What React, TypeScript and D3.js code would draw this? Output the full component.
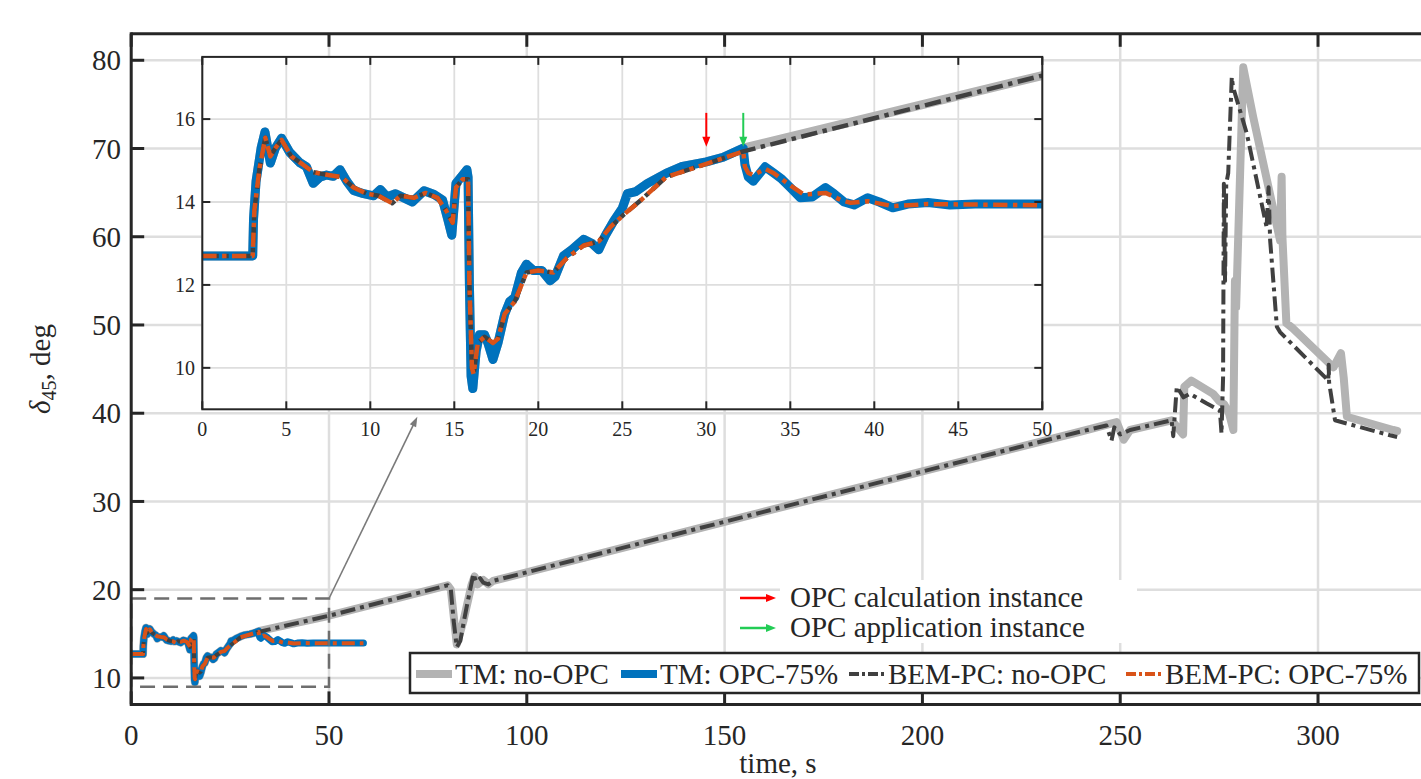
import React from 'react';
import * as d3 from 'd3';

// [time s, delta_45 deg]
const tmOpc75: [number, number][] = [
  [0, 12.7], [3.0, 12.7], [3.05, 13.6], [3.2, 14.5], [3.5, 15.3], [3.73, 15.69], [4.05, 14.94],
  [4.35, 15.3], [4.72, 15.54], [5.2, 15.2], [5.8, 14.95], [6.2, 14.85], [6.6, 14.45], [7.0, 14.6],
  [7.4, 14.65], [7.8, 14.62], [8.2, 14.78], [8.6, 14.5], [9.0, 14.28], [9.6, 14.2], [10.2, 14.15],
  [10.6, 14.3], [11.0, 14.12], [11.5, 14.2], [12.0, 14.1], [12.5, 14.0], [13.2, 14.27], [13.8, 14.18],
  [14.3, 14.05], [14.6, 13.6], [14.85, 13.2], [15.1, 14.45], [15.5, 14.65], [15.75, 14.78],
  [15.82, 14.6], [15.9, 12.0], [16.0, 9.8], [16.1, 9.5], [16.3, 10.4], [16.5, 10.8], [16.8, 10.8],
  [17.0, 10.6], [17.3, 10.2], [17.6, 10.6], [18.0, 11.3], [18.3, 11.6], [18.6, 11.7], [19.0, 12.3],
  [19.3, 12.5], [19.7, 12.35], [20.2, 12.35], [20.7, 12.1], [21.0, 12.2], [21.5, 12.7], [22.0, 12.85],
  [22.7, 13.1], [23.2, 13.0], [23.6, 12.85], [24.0, 13.2], [24.5, 13.55], [25.0, 13.85], [25.3, 14.2],
  [25.8, 14.25], [26.5, 14.45], [27.6, 14.69], [28.5, 14.85], [30.0, 14.97], [31.0, 15.08],
  [32.2, 15.3], [32.3, 14.9], [32.5, 14.6], [32.8, 14.5], [33.2, 14.7], [33.5, 14.85], [34.0, 14.7],
  [34.5, 14.55], [35.0, 14.35], [35.6, 14.1], [36.3, 14.12], [37.1, 14.35], [37.6, 14.2], [38.2, 14.0],
  [38.8, 13.93], [39.6, 14.1], [40.3, 14.0], [41.1, 13.86], [42.0, 13.95], [43.2, 13.99],
  [44.5, 13.93], [46, 13.95], [50, 13.95], [58.7, 13.95],
];

const bemOpc75: [number, number][] = [
  [0, 12.7], [3.0, 12.7], [3.1, 13.8], [3.4, 14.8], [3.75, 15.55], [4.05, 15.1], [4.35, 15.3],
  [4.72, 15.5], [5.3, 15.1], [6.0, 14.9], [6.6, 14.72], [7.5, 14.65], [8.3, 14.6], [9.0, 14.35],
  [9.8, 14.2], [10.5, 14.15], [11.3, 13.97], [11.8, 14.15], [12.6, 14.1], [13.3, 14.22], [14.0, 14.1],
  [14.5, 13.8], [14.9, 13.5], [15.1, 14.35], [15.5, 14.55], [15.82, 14.55], [15.9, 12.0],
  [16.05, 10.0], [16.15, 9.85], [16.4, 10.6], [16.8, 10.75], [17.3, 10.6], [17.6, 10.7], [18.0, 11.3],
  [18.6, 11.6], [19.3, 12.3], [20.0, 12.35], [20.9, 12.3], [21.7, 12.65], [22.7, 12.95], [23.6, 13.05],
  [24.3, 13.4], [25.1, 13.7], [26.1, 14.04], [27.6, 14.6], [30.0, 14.92], [32.2, 15.22], [32.3, 14.85],
  [32.5, 14.7], [32.8, 14.65], [33.5, 14.8], [34.0, 14.7], [35.0, 14.4], [35.8, 14.18], [37.1, 14.22],
  [38.0, 14.05], [38.6, 13.98], [39.6, 14.02], [41.1, 13.9], [43.2, 13.95], [50, 13.92], [58.7, 13.92],
];

// no-OPC runs continue after the OPC application instant
const tmNoOpcAfter: [number, number][] = [
  [50, 17.05], [80, 20.5], [80.8, 20.0], [82.3, 13.8], [84, 16.5], [86, 20.5], [86.8, 21.5],
  [87.6, 20.6], [89, 21.1], [90.3, 20.6], [91.5, 21.0], [150, 27.7], [200, 33.4], [239.8, 37.9],
  [249.1, 39.0], [250.9, 37.0], [252.5, 38.1], [263, 39.2], [265.9, 37.6], [266.2, 43.0], [268, 43.7],
  [273.5, 42.2], [275, 41.4], [276.3, 41], [277.5, 40], [278.6, 38.1], [279.0, 55], [279.3, 52],
  [281.1, 79.2], [283.6, 73.6], [290.4, 59.6], [290.8, 66.8], [291.0, 60], [292.0, 50.2],
  [293.7, 49.6], [303.9, 45.2], [305.8, 46.8], [306.5, 44], [307.3, 39.6], [319, 38.1], [320, 38.0],
];

const bemNoOpcAfter: [number, number][] = [
  [50, 17.05], [80, 20.5], [80.8, 20.0], [81.5, 16.5], [82.3, 13.5], [83.2, 14.2], [84, 16.2],
  [85, 18.5], [86.5, 21.8], [87.2, 20.9], [88.2, 21.3], [89, 20.8], [90.3, 20.6], [91.5, 21.0],
  [150, 27.7], [200, 33.4], [239.8, 37.9], [246.5, 38.6], [247.8, 36.9], [248.5, 38.4], [250, 37.6],
  [252.5, 38.1], [263, 39.2], [263.4, 37.4], [264.3, 43.0], [266, 41.8], [267.6, 42.2], [271.9, 41.1],
  [275.2, 40.3], [275.6, 37.7], [276.0, 44], [276.2, 66.0], [276.5, 55], [276.8, 66], [277.3, 67.2],
  [278.2, 78.1], [278.5, 77], [282, 71.7], [287, 61.1], [287.5, 65.6], [287.9, 59.6], [289.6, 49.8],
  [290.4, 49.2], [302.6, 43.7], [302.7, 45.5], [302.8, 43.5], [304.3, 39.2], [318.2, 37.5], [320, 37.3],
];

const opcCalcTime = 30;
const opcApplyTime = 32.2;

const mainXTicks = [0, 50, 100, 150, 200, 250, 300];
const mainYTicks = [10, 20, 30, 40, 50, 60, 70, 80];
const insetXTicks = [0, 5, 10, 15, 20, 25, 30, 35, 40, 45, 50];
const insetYTicks = [10, 12, 14, 16];
const zoomTimes = [0, 50];
const zoomValues = [9, 19];

const seriesNames = ['TM: no-OPC', 'TM: OPC-75%', 'BEM-PC: no-OPC', 'BEM-PC: OPC-75%'];
const arrowNotes = ['OPC calculation instance', 'OPC application instance'];

const FONT = '"Liberation Serif", "Times New Roman", serif';
const INK = '#262626';
const GRID = '#dedede';

const tmNoOpc = tmOpc75.filter(d => d[0] <= opcApplyTime).concat(tmNoOpcAfter);
const bemNoOpc = bemOpc75.filter(d => d[0] <= opcApplyTime).concat(bemNoOpcAfter);

const styles = [
  { data: tmNoOpc, color: '#b3b3b3', main: 8, inset: 9, dash: null },
  { data: tmOpc75, color: '#0072bd', main: 7, inset: 9, dash: null },
  { data: bemNoOpc, color: '#404040', main: 4, inset: 4.5, dash: [15, 5, 4, 5] },
  { data: bemOpc75, color: '#d95319', main: 4, inset: 4.5, dash: [13, 5, 4, 5] },
];

export default function App() {
  const W = 1421, H = 779;
  const x = d3.scaleLinear().domain([0, 330]).range([131.2, 1436.7]);
  const y = d3.scaleLinear().domain([7, 83]).range([704.4, 33.8]);
  const ix = d3.scaleLinear().domain([0, 50]).range([202.3, 1042.3]);
  const iy = d3.scaleLinear().domain([9, 17.5]).range([409.3, 56.9]);

  const mainLine = d3.line<[number, number]>().x(d => x(d[0])).y(d => y(d[1]));
  const insetLine = d3.line<[number, number]>().x(d => ix(d[0])).y(d => iy(d[1]));

  const [mx0, mx1] = x.range();
  const [my0, my1] = y.range(); // bottom, top
  const [ix0, ix1] = ix.range();
  const [iy0, iy1] = iy.range();

  // pointer from zoom box to inset
  const px0 = x(zoomTimes[1]), py0 = y(zoomValues[1]);
  const px1 = ix(12.8), py1 = iy(8.82);
  const ang = Math.atan2(py1 - py0, px1 - px0);
  const head = (tx: number, ty: number, a: number, len: number, wid: number) => {
    const bx = tx - len * Math.cos(a), by = ty - len * Math.sin(a);
    const nx = -Math.sin(a) * wid, ny = Math.cos(a) * wid;
    return `M${tx},${ty}L${bx + nx},${by + ny}L${bx - nx},${by - ny}Z`;
  };

  const legendX = [416, 621, 849, 1126];

  return (
    <svg width={W} height={H} style={{ position: 'absolute', left: 0, top: 0, background: '#fff' }}
      fontFamily={FONT}>
      <defs>
        <clipPath id="mainClip"><rect x={mx0} y={my1} width={mx1 - mx0} height={my0 - my1} /></clipPath>
        <clipPath id="insetClip"><rect x={ix0} y={iy1} width={ix1 - ix0} height={iy0 - iy1} /></clipPath>
      </defs>
      <rect width={W} height={H} fill="#fff" />

      {/* main grid */}
      {mainXTicks.map(t => (
        <line key={'gx' + t} x1={x(t)} x2={x(t)} y1={my0} y2={my1} stroke={GRID} strokeWidth={2.5} />
      ))}
      {mainYTicks.map(t => (
        <line key={'gy' + t} x1={mx0} x2={mx1} y1={y(t)} y2={y(t)} stroke={GRID} strokeWidth={2.5} />
      ))}

      {/* main series */}
      <g clipPath="url(#mainClip)" fill="none">
        {styles.map((s, i) => (
          <path key={i} d={mainLine(s.data) || ''} stroke={s.color} strokeWidth={s.main}
            strokeDasharray={s.dash ? s.dash.join(',') : undefined}
            strokeLinejoin="round" strokeLinecap={s.dash ? 'butt' : 'round'} />
        ))}
      </g>

      {/* zoom box */}
      <rect x={x(zoomTimes[0])} y={y(zoomValues[1])} width={x(zoomTimes[1]) - x(zoomTimes[0])}
        height={y(zoomValues[0]) - y(zoomValues[1])} fill="none" stroke="#6e6e6e" strokeWidth={2.5}
        strokeDasharray="15,8" />

      {/* main axes */}
      <g stroke={INK} strokeWidth={3}>
        <line x1={mx0} x2={mx0} y1={my0 + 1.5} y2={my1 - 1.5} />
        <line x1={mx0} x2={mx1} y1={my0} y2={my0} />
        <line x1={mx0} x2={mx1} y1={my1} y2={my1} />
        <line x1={mx1} x2={mx1} y1={my0} y2={my1} />
        {mainXTicks.map(t => (
          <g key={'tx' + t}>
            <line x1={x(t)} x2={x(t)} y1={my0} y2={my0 - 13} />
            <line x1={x(t)} x2={x(t)} y1={my1} y2={my1 + 13} />
          </g>
        ))}
        {mainYTicks.map(t => (
          <line key={'ty' + t} x1={mx0} x2={mx0 + 13} y1={y(t)} y2={y(t)} />
        ))}
      </g>
      <g fill={INK} fontSize={29}>
        {mainXTicks.map(t => (
          <text key={'lx' + t} x={x(t)} y={745} textAnchor="middle">{t}</text>
        ))}
        {mainYTicks.map(t => (
          <text key={'ly' + t} x={121} y={y(t)} dy="0.35em" textAnchor="end">{t}</text>
        ))}
        <text x={(mx0 + mx1) / 2 - 6} y={773} textAnchor="middle">time, s</text>
        <text transform="translate(50,369) rotate(-90)" textAnchor="middle">
          <tspan fontStyle="italic">δ</tspan>
          <tspan fontSize={20} dy={6}>45</tspan>
          <tspan dy={-6}>, deg</tspan>
        </text>
      </g>

      {/* pointer to inset */}
      <line x1={px0} y1={py0} x2={px1 - 8 * Math.cos(ang)} y2={py1 - 8 * Math.sin(ang)}
        stroke="#7a7a7a" strokeWidth={1.6} />
      <path d={head(px1, py1, ang, 10, 3.5)} fill="#7a7a7a" />

      {/* inset */}
      <rect x={ix0} y={iy1} width={ix1 - ix0} height={iy0 - iy1} fill="#fff" />
      {insetXTicks.map(t => (
        <line key={'igx' + t} x1={ix(t)} x2={ix(t)} y1={iy0} y2={iy1} stroke={GRID} strokeWidth={1.8} />
      ))}
      {insetYTicks.map(t => (
        <line key={'igy' + t} x1={ix0} x2={ix1} y1={iy(t)} y2={iy(t)} stroke={GRID} strokeWidth={1.8} />
      ))}
      <g clipPath="url(#insetClip)" fill="none">
        {styles.map((s, i) => (
          <path key={i} d={insetLine(s.data.filter(d => d[0] <= 51)) || ''} stroke={s.color}
            strokeWidth={s.inset} strokeDasharray={s.dash ? s.dash.map(v => v * 1.1).join(',') : undefined}
            strokeLinejoin="round" strokeLinecap={s.dash ? 'butt' : 'round'} />
        ))}
      </g>
      {/* OPC instants */}
      {[{ t: opcCalcTime, c: '#ff0000' }, { t: opcApplyTime, c: '#22cc55' }].map(a => (
        <g key={a.t}>
          <line x1={ix(a.t)} x2={ix(a.t)} y1={iy(16.15)} y2={iy(15.5)} stroke={a.c} strokeWidth={2} />
          <path d={head(ix(a.t), iy(15.33), Math.PI / 2, 10, 4)} fill={a.c} />
        </g>
      ))}
      <g stroke={INK} strokeWidth={2}>
        <rect x={ix0} y={iy1} width={ix1 - ix0} height={iy0 - iy1} fill="none" />
        {insetXTicks.map(t => (
          <g key={'itx' + t}>
            <line x1={ix(t)} x2={ix(t)} y1={iy0} y2={iy0 - 8} />
            <line x1={ix(t)} x2={ix(t)} y1={iy1} y2={iy1 + 8} />
          </g>
        ))}
        {insetYTicks.map(t => (
          <g key={'ity' + t}>
            <line x1={ix0} x2={ix0 + 8} y1={iy(t)} y2={iy(t)} />
            <line x1={ix1} x2={ix1 - 8} y1={iy(t)} y2={iy(t)} />
          </g>
        ))}
      </g>
      <g fill={INK} fontSize={20}>
        {insetXTicks.map(t => (
          <text key={'ilx' + t} x={ix(t)} y={436} textAnchor="middle">{t}</text>
        ))}
        {insetYTicks.map(t => (
          <text key={'ily' + t} x={195} y={iy(t)} dy="0.35em" textAnchor="end">{t}</text>
        ))}
      </g>

      {/* arrow notes */}
      <rect x={780} y={580} width={357} height={63} fill="#fff" />
      {arrowNotes.map((n, i) => {
        const yy = 598 + i * 30;
        const c = i === 0 ? '#ff0000' : '#22cc55';
        return (
          <g key={n}>
            <line x1={740} x2={768} y1={yy} y2={yy} stroke={c} strokeWidth={2.5} />
            <path d={head(776, yy, 0, 10, 4)} fill={c} />
            <text x={790} y={yy + 9} fontSize={29} fill={INK}>{n}</text>
          </g>
        );
      })}

      {/* legend */}
      <rect x={410} y={653} width={1009} height={40} fill="#fff" stroke={INK} strokeWidth={2.5} />
      {seriesNames.map((n, i) => {
        const s = styles[i];
        const lx = legendX[i];
        return (
          <g key={n}>
            <line x1={lx} x2={lx + 36} y1={674} y2={674} stroke={s.color}
              strokeWidth={s.dash ? 4 : 8} strokeDasharray={s.dash ? '10,3,3,3' : undefined} />
            <text x={lx + 39} y={684} fontSize={29} fill={INK}>{n}</text>
          </g>
        );
      })}
    </svg>
  );
}
